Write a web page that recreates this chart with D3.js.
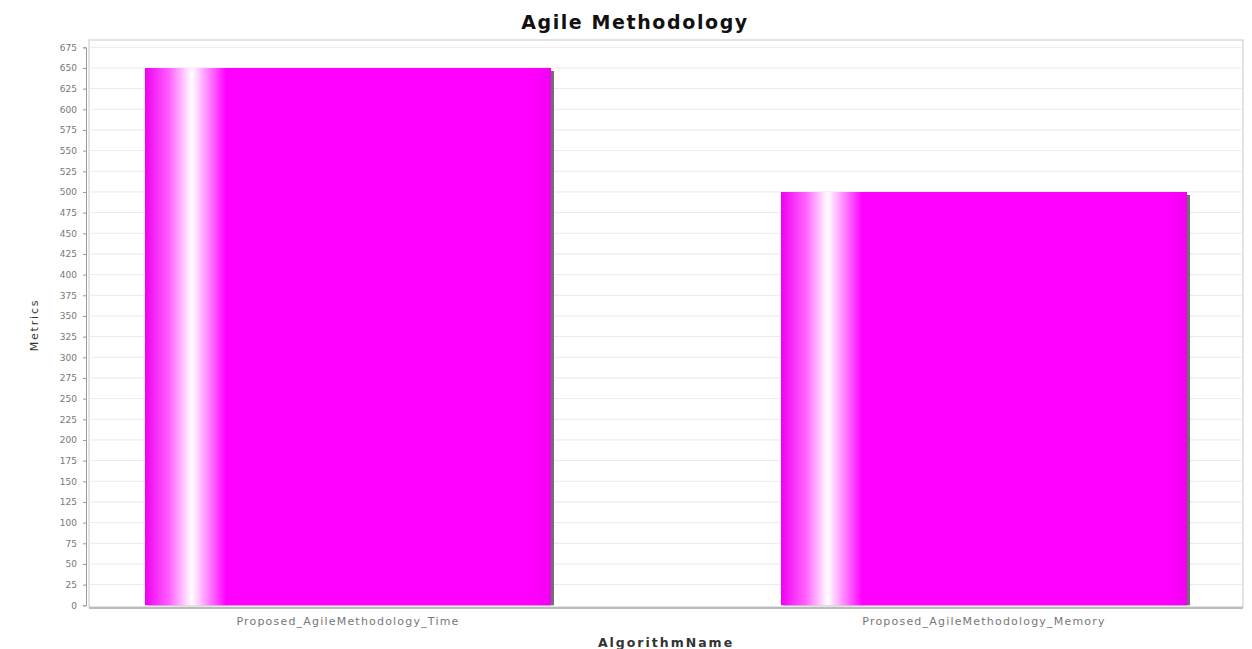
<!DOCTYPE html>
<html>
<head>
<meta charset="utf-8" />
<title>Agile Methodology</title>
<style>
body { margin: 0; background: #fff; }
svg { display: block; }
svg text { font-family: "DejaVu Sans", sans-serif; }
</style>
<script src="https://cdn.jsdelivr.net/npm/d3@7"></script>
</head>
<body>
<svg class="chart"></svg>
<script>

// data
var categories = ["Proposed_AgileMethodology_Time", "Proposed_AgileMethodology_Memory"];
var values = [650, 500];
var yTicks = d3.range(0, 676, 25);

var width = 1252;
var height = 649;
var plot = { left: 89, top: 40, right: 1243, bottom: 607 };

var svg = d3.select(".chart")
    .attr("width", width)
    .attr("height", height);

// horizontal gradient like the jfreechart bar painter
var grad = svg.append("defs").append("linearGradient")
    .attr("id", "barGrad")
    .attr("x1", "0%").attr("x2", "100%")
    .attr("y1", "0%").attr("y2", "0%");
[[0, "#f000f0"], [0.06, "#ff60ff"], [0.115, "#ffffff"], [0.2, "#ff00ff"],
 [0.95, "#ff00ff"], [1, "#f200f2"]].forEach(function(s) {
  grad.append("stop").attr("offset", s[0]).attr("stop-color", s[1]);
});

var y = d3.scaleLinear()
    .domain([0, 675])
    .range([605.3, 47.3]);

var x = d3.scaleBand()
    .domain(categories)
    .range([plot.left, plot.right])
    .paddingInner(0.3616)
    .paddingOuter(0.088);

// plot background + outline
svg.append("rect")
    .attr("x", plot.left)
    .attr("y", plot.top)
    .attr("width", plot.right - plot.left)
    .attr("height", plot.bottom - plot.top)
    .attr("fill", "#fff")
    .attr("stroke", "#c8c8c8")
    .attr("stroke-width", 1);

// gridlines
svg.append("g")
    .selectAll("line")
    .data(yTicks.filter(function(d) { return d > 0; }))
    .enter()
    .append("line")
    .attr("x1", plot.left)
    .attr("x2", plot.right)
    .attr("y1", function(d) { return y(d); })
    .attr("y2", function(d) { return y(d); })
    .attr("stroke", "#f5e4ea")
    .attr("stroke-width", 1);

// bar shadows
svg.append("g")
    .selectAll("rect")
    .data(values)
    .enter()
    .append("rect")
    .attr("x", function(d, i) { return x(categories[i]) + 3; })
    .attr("y", function(d) { return y(d) + 3; })
    .attr("width", x.bandwidth())
    .attr("height", function(d) { return y(0) - y(d) - 3; })
    .attr("fill", "#707070");

// bars
svg.append("g")
    .selectAll("rect")
    .data(values)
    .enter()
    .append("rect")
    .attr("x", function(d, i) { return x(categories[i]); })
    .attr("y", function(d) { return y(d); })
    .attr("width", x.bandwidth())
    .attr("height", function(d) { return y(0) - y(d); })
    .attr("fill", "url(#barGrad)");

// y axis
var yAxis = d3.axisLeft(y)
    .tickValues(yTicks)
    .tickSize(3)
    .tickPadding(6);

var yg = svg.append("g")
    .attr("transform", "translate(" + (plot.left - 3) + ",0)")
    .call(yAxis);
yg.select(".domain").attr("stroke", "#999");
yg.selectAll(".tick line").attr("stroke", "#999");
yg.selectAll("text")
    .attr("fill", "#777")
    .style("font-size", "9px");

// x axis line
svg.append("line")
    .attr("x1", plot.left)
    .attr("x2", plot.right)
    .attr("y1", plot.bottom + 1)
    .attr("y2", plot.bottom + 1)
    .attr("stroke", "#bbb")
    .attr("stroke-width", 2);

// category labels
svg.append("g")
    .selectAll("text")
    .data(categories)
    .enter()
    .append("text")
    .attr("x", function(d) { return x(d) + x.bandwidth() / 2; })
    .attr("y", 625)
    .attr("text-anchor", "middle")
    .attr("fill", "#777")
    .style("font-size", "11px")
    .style("letter-spacing", "1.2px")
    .text(function(d) { return d; });

// titles
svg.append("text")
    .attr("x", 635)
    .attr("y", 29)
    .attr("text-anchor", "middle")
    .style("font-size", "19px")
    .style("font-weight", "bold")
    .style("letter-spacing", "1.6px")
    .attr("fill", "#111")
    .text("Agile Methodology");

svg.append("text")
    .attr("x", 666)
    .attr("y", 647)
    .attr("text-anchor", "middle")
    .style("font-size", "12.5px")
    .style("font-weight", "bold")
    .style("letter-spacing", "2px")
    .attr("fill", "#333")
    .text("AlgorithmName");

svg.append("text")
    .attr("transform", "translate(38,325) rotate(-90)")
    .attr("text-anchor", "middle")
    .style("font-size", "11px")
    .style("letter-spacing", "1.8px")
    .attr("fill", "#333")
    .text("Metrics");

</script>
</body>
</html>
